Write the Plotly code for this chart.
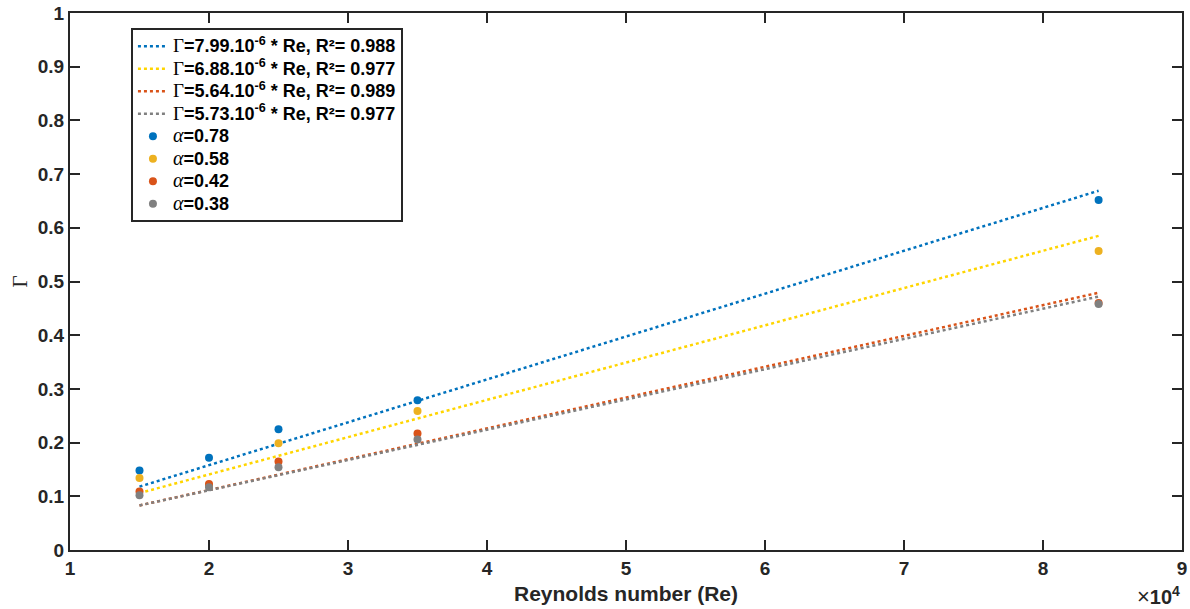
import plotly.graph_objects as go

# Data
re_pts = [1.5e4, 2.0e4, 2.5e4, 3.5e4, 8.4e4]
gamma_a078 = [0.148, 0.172, 0.225, 0.279, 0.652]
gamma_a058 = [0.134, 0.120, 0.199, 0.259, 0.557]
gamma_a042 = [0.109, 0.123, 0.165, 0.217, 0.460]
gamma_a038 = [0.102, 0.117, 0.154, 0.206, 0.458]

re_fit = [1.5e4, 8.4e4]
fit_a078 = [0.118, 0.669]
fit_a058 = [0.106, 0.585]
fit_a042 = [0.083, 0.479]
fit_a038 = [0.083, 0.472]

fit_labels = ["7.99", "6.88", "5.64", "5.73"]
fit_r2 = ["0.988", "0.977", "0.989", "0.977"]
alpha_labels = ["0.78", "0.58", "0.42", "0.38"]

x_ticks = [1e4, 2e4, 3e4, 4e4, 5e4, 6e4, 7e4, 8e4, 9e4]
x_ticktext = ["1", "2", "3", "4", "5", "6", "7", "8", "9"]
y_ticks = [0, 0.1, 0.2, 0.3, 0.4, 0.5, 0.6, 0.7, 0.8, 0.9, 1.0]
y_ticktext = ["0", "0.1", "0.2", "0.3", "0.4", "0.5", "0.6", "0.7", "0.8", "0.9", "1"]

line_colors = ["#0072BD", "#FFD500", "#D95319", "#808080"]
marker_colors = ["#0072BD", "#EDB120", "#D95319", "#808080"]

SERIF = "'Liberation Serif', 'DejaVu Serif', serif"
SANS = "Arial, 'Liberation Sans', Helvetica, sans-serif"
INK = "#262626"

fig = go.Figure()

fits = [fit_a078, fit_a058, fit_a042, fit_a038]
for i, fy in enumerate(fits):
    name = (f"<span style=\"font-size:18px\">"
            f"<span style=\"font-family:{SERIF};font-weight:normal;font-size:19px\">Γ</span>"
            f"<b>={fit_labels[i]}.10<sup>-6</sup> * Re, R²= {fit_r2[i]}</b></span>")
    fig.add_trace(go.Scatter(
        x=re_fit, y=fy, mode="lines", name=name,
        line=dict(color=line_colors[i], width=2.5, dash="dot"),
    ))

pts = [gamma_a078, gamma_a058, gamma_a042, gamma_a038]
for i, gy in enumerate(pts):
    name = (f"<span style=\"font-size:18px\">"
            f"<span style=\"font-family:{SERIF};font-style:italic;font-weight:normal;font-size:20px\">α</span>"
            f"<b>={alpha_labels[i]}</b></span>")
    fig.add_trace(go.Scatter(
        x=re_pts, y=gy, mode="markers", name=name,
        marker=dict(color=marker_colors[i], size=8, line=dict(width=0)),
    ))

axis_common = dict(
    showline=True, linecolor=INK, linewidth=2, mirror="ticks",
    ticks="inside", ticklen=10, tickwidth=1.5, tickcolor=INK,
    showgrid=False, zeroline=False, automargin=False,
    ticklabeloverflow="allow",
    tickfont=dict(family=SANS, size=19, color=INK, weight="bold"),
)

fig.update_layout(
    width=1190, height=609,
    margin=dict(l=70, r=8, t=13, b=59),
    paper_bgcolor="white", plot_bgcolor="white",
    xaxis=dict(range=[1e4, 9e4], tickvals=x_ticks, ticktext=x_ticktext,
               title=dict(text="Reynolds number (Re)", standoff=9,
                          font=dict(family=SANS, size=21, color=INK, weight="bold")),
               **axis_common),
    yaxis=dict(range=[0, 1], tickvals=y_ticks, ticktext=y_ticktext,
               title=dict(text="Γ", standoff=4,
                          font=dict(family=SERIF, size=21, color=INK)),
               **axis_common),
    legend=dict(
        x=0.0548, y=0.972, xanchor="left", yanchor="top",
        bgcolor="white", bordercolor=INK, borderwidth=2,
        font=dict(family=SANS, size=15, color="#000000"),
        tracegroupgap=0, itemwidth=30,
    ),
    showlegend=True,
)

fig.add_annotation(
    xref="paper", yref="paper", x=0.999, y=-0.1115, xanchor="right", yanchor="bottom",
    text="<span style=\"font-size:22px\">×</span><b>10<sup>4</sup></b>", showarrow=False,
    font=dict(family=SANS, size=20, color=INK), borderpad=0,
)

fig.write_html(
    "out.html",
    config={"displayModeBar": False},
    post_script="document.body.style.margin='0';document.body.style.padding='0';",
)
